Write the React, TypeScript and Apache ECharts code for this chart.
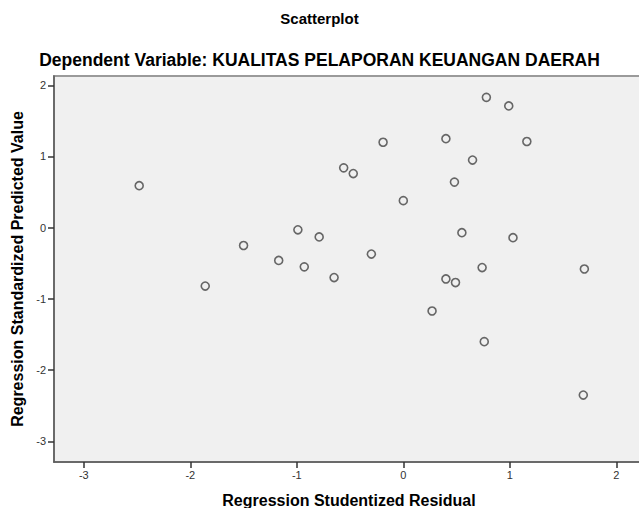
import React, { useEffect, useRef } from "react";
import * as echarts from "echarts";

const titleText = "Scatterplot";
const subtitleText = "Dependent Variable: KUALITAS PELAPORAN KEUANGAN DAERAH";
const xAxisTitle = "Regression Studentized Residual";
const yAxisTitle = "Regression Standardized Predicted Value";
const xTicks = [-3, -2, -1, 0, 1, 2];
const yTicks = [-3, -2, -1, 0, 1, 2];

const residuals = [
  -2.48, -0.56, -0.47, -0.99, -0.79, -1.5, -1.17, -0.93, 0.78, 0.99,
  -0.19, 0.4, 1.16, 0.65, 0.48, 0.0, 0.55, 1.03, -0.3, 0.74,
  1.7, -0.65, -1.86, 0.4, 0.49, 0.27, 0.76, 1.69,
];
const predicted = [
  0.59, 0.84, 0.76, -0.03, -0.13, -0.25, -0.46, -0.55, 1.83, 1.71,
  1.2, 1.25, 1.21, 0.95, 0.64, 0.38, -0.07, -0.14, -0.37, -0.56,
  -0.58, -0.7, -0.82, -0.72, -0.77, -1.17, -1.6, -2.35,
];

export default function App() {
  const ref = useRef<HTMLDivElement>(null);
  useEffect(() => {
    document.body.style.margin = "0";
    document.documentElement.style.overflow = "hidden";
    document.body.style.overflow = "hidden";
    if (!ref.current) return;
    const chart = echarts.init(ref.current, null, { renderer: "svg" });
    const data = residuals.map((x, i) => [x, predicted[i]]);
    const font = "'Liberation Sans', Arial, sans-serif";
    chart.setOption({
      animation: false,
      backgroundColor: "#ffffff",
      title: [
        {
          text: titleText,
          left: "center",
          top: 6,
          textStyle: { fontFamily: font, fontSize: 15, fontWeight: "bold", color: "#000" },
        },
        {
          text: subtitleText,
          left: "center",
          top: 46,
          textStyle: { fontFamily: font, fontSize: 17.5, fontWeight: "bold", color: "#000" },
        },
      ],
      grid: {
        left: 54,
        right: -5,
        top: 76,
        bottom: 46,
        show: true,
        backgroundColor: "#f0f0f0",
        borderColor: "#9a9a9a",
        borderWidth: 2,
        outerBoundsMode: "none",
        containLabel: false,
      },
      xAxis: {
        type: "value",
        min: -3.28,
        max: 2.26,
        name: xAxisTitle,
        nameLocation: "middle",
        nameGap: 30,
        nameTextStyle: { fontFamily: font, fontSize: 16, fontWeight: "bold", color: "#000" },
        axisLine: { show: true, onZero: false, lineStyle: { color: "#5a5a5a", width: 1.5 } },
        axisTick: { show: true, inside: false, length: 6, customValues: xTicks, lineStyle: { color: "#333", width: 1.5 } },
        axisLabel: { customValues: xTicks, fontFamily: font, fontSize: 11, color: "#333", margin: 7 },
        splitLine: { show: false },
      },
      yAxis: {
        type: "value",
        min: -3.29,
        max: 2.13,
        name: yAxisTitle,
        nameLocation: "middle",
        nameGap: 28,
        nameRotate: 90,
        nameTextStyle: { fontFamily: font, fontSize: 16, fontWeight: "bold", color: "#000" },
        axisLine: { show: true, onZero: false, lineStyle: { color: "#5a5a5a", width: 1.5 } },
        axisTick: { show: true, inside: false, length: 6, customValues: yTicks, lineStyle: { color: "#333", width: 1.5 } },
        axisLabel: { customValues: yTicks, fontFamily: font, fontSize: 11, color: "#333", margin: 8 },
        splitLine: { show: false },
      },
      series: [
        {
          type: "scatter",
          data,
          symbol: "circle",
          symbolSize: 8,
          itemStyle: { color: "#f0f0f0", borderColor: "#444", borderWidth: 1.6 },
          emphasis: { disabled: true },
        },
      ],
    });
    return () => chart.dispose();
  }, []);
  return <div ref={ref} style={{ width: 639, height: 508 }} />;
}
